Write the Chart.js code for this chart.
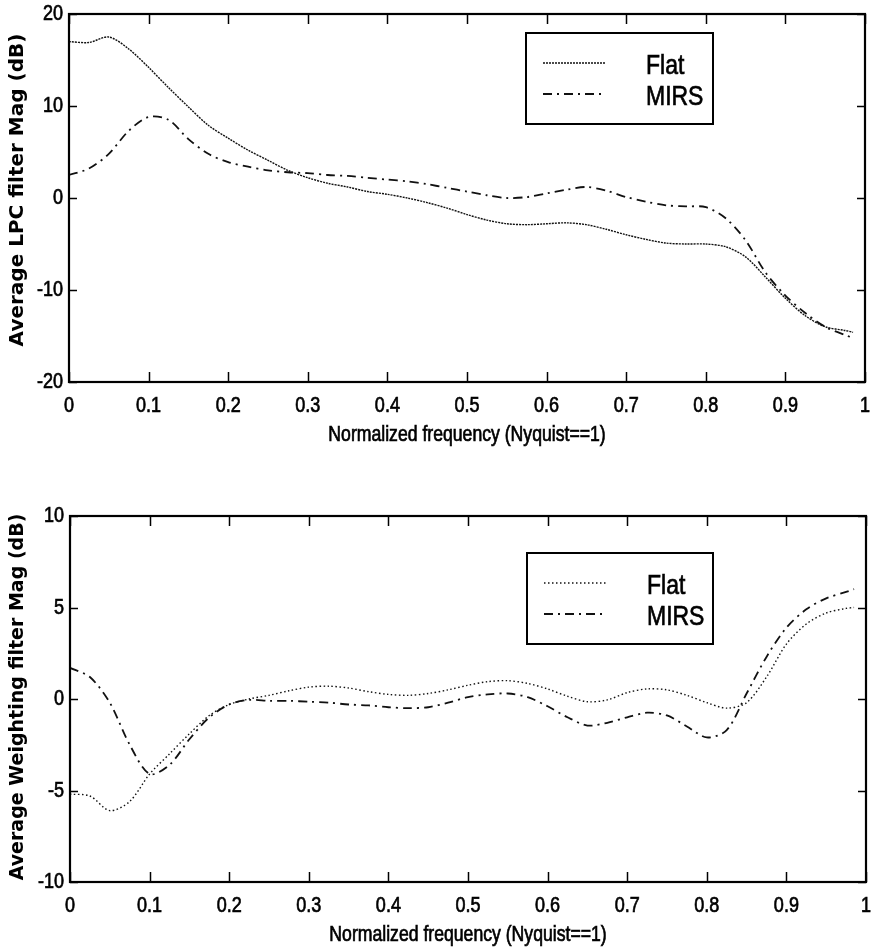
<!DOCTYPE html>
<html>
<head>
<meta charset="utf-8">
<script src="https://cdn.jsdelivr.net/npm/chart.js@4.4.0/dist/chart.umd.min.js"></script>
<style>
  body { margin: 0; background: #fff; width: 871px; height: 951px; overflow: hidden; position: relative; }
  canvas { position: absolute; left: 0; }
  #lpcChart { top: 0; }
  #wtChart { top: 475px; }
</style>
</head>
<body>
<canvas id="lpcChart" width="871" height="475"></canvas>
<canvas id="wtChart" width="871" height="476"></canvas>
<script>
// normalized frequency grid (Nyquist == 1)
const freq = [0, 0.025, 0.05, 0.075, 0.1, 0.125, 0.15, 0.175, 0.2, 0.225,
  0.25, 0.275, 0.3, 0.325, 0.35, 0.375, 0.4, 0.425, 0.45, 0.475,
  0.5, 0.525, 0.55, 0.575, 0.6, 0.625, 0.65, 0.675, 0.7, 0.725,
  0.75, 0.775, 0.8, 0.825, 0.85, 0.875, 0.9, 0.925, 0.95, 0.975, 0.985];

// average LPC filter magnitude, dB
const lpcFlat = [17.0, 16.9, 17.5, 16.2, 14.2, 12.0, 9.9, 7.9, 6.5, 5.2,
  4.1, 3.0, 2.2, 1.6, 1.2, 0.7, 0.4, 0.0, -0.5, -1.1,
  -1.8, -2.4, -2.8, -2.9, -2.8, -2.7, -2.9, -3.4, -4.0, -4.5,
  -4.9, -5.0, -5.0, -5.3, -6.4, -8.6, -10.9, -12.8, -14.0, -14.4, -14.6];
const lpcMirs = [2.5, 3.2, 4.8, 7.3, 8.8, 8.5, 6.4, 4.8, 3.9, 3.4,
  3.0, 2.8, 2.7, 2.5, 2.4, 2.2, 2.0, 1.8, 1.5, 1.1,
  0.7, 0.3, 0.0, 0.1, 0.5, 0.9, 1.2, 0.8, 0.1, -0.4,
  -0.8, -0.9, -1.0, -2.2, -4.6, -8.1, -10.6, -12.5, -14.0, -14.9, -15.2];

// average weighting filter magnitude, dB
const wtFlat = [-5.2, -5.3, -6.1, -5.6, -4.1, -3.0, -1.9, -0.9, -0.3, 0.0,
  0.2, 0.45, 0.65, 0.7, 0.6, 0.4, 0.25, 0.2, 0.3, 0.5,
  0.75, 0.95, 1.0, 0.85, 0.55, 0.15, -0.15, -0.05, 0.35, 0.55,
  0.5, 0.2, -0.2, -0.5, -0.2, 1.2, 3.0, 4.1, 4.7, 4.95, 5.0];
const wtMirs = [1.7, 1.2, -0.2, -2.5, -4.1, -3.6, -2.2, -1.0, -0.3, -0.05,
  -0.1, -0.1, -0.15, -0.2, -0.3, -0.35, -0.45, -0.5, -0.45, -0.2,
  0.1, 0.25, 0.3, 0.1, -0.4, -1.0, -1.45, -1.3, -1.0, -0.75,
  -0.9, -1.5, -2.1, -1.7, 0.3, 2.3, 3.9, 4.9, 5.5, 5.85, 6.0];

const seriesNames = ['Flat', 'MIRS'];
const xTicks = [0, 0.1, 0.2, 0.3, 0.4, 0.5, 0.6, 0.7, 0.8, 0.9, 1];
const xTickLabels = ['0', '0.1', '0.2', '0.3', '0.4', '0.5', '0.6', '0.7', '0.8', '0.9', '1'];
const lpcTicks = [-20, -10, 0, 10, 20];
const wtTicks = [-10, -5, 0, 5, 10];
const xTitle = 'Normalized frequency (Nyquist==1)';

const ink = '#111';
const sans = '"Liberation Sans", Arial, sans-serif';

function pts(ys) {
  return freq.map((f, i) => ({ x: f, y: ys[i] }));
}

// condensed text, like the old Helvetica plot fonts
function text(ctx, str, x, y, size, align, baseline) {
  ctx.save();
  ctx.translate(x, y);
  ctx.scale(0.82, 1);
  ctx.font = size + 'px ' + sans;
  ctx.textAlign = align;
  ctx.textBaseline = baseline;
  ctx.fillStyle = '#000';
  ctx.strokeStyle = '#000';
  ctx.lineWidth = 0.7;
  ctx.fillText(str, 0, 0);
  ctx.strokeText(str, 0, 0);
  ctx.restore();
}

// box, inward tick marks, labels and the boxed legend
const matlabBox = {
  id: 'matlabBox',
  afterDatasetsDraw(chart, args, opts) {
    const { ctx, chartArea: a, scales: { x, y } } = chart;
    ctx.save();
    ctx.strokeStyle = '#000';
    ctx.lineWidth = 1.5;
    ctx.beginPath();
    x.ticks.forEach(t => {
      const px = Math.round(x.getPixelForValue(t.value)) + 0.5;
      ctx.moveTo(px, a.bottom); ctx.lineTo(px, a.bottom - 10);
      ctx.moveTo(px, a.top); ctx.lineTo(px, a.top + 10);
    });
    y.ticks.forEach(t => {
      const py = Math.round(y.getPixelForValue(t.value)) + 0.5;
      ctx.moveTo(a.left, py); ctx.lineTo(a.left + 8, py);
      ctx.moveTo(a.right, py); ctx.lineTo(a.right - 8, py);
    });
    ctx.stroke();
    ctx.lineWidth = 2.2;
    ctx.strokeRect(a.left, a.top, a.right - a.left, a.bottom - a.top);

    // tick labels and axis titles
    x.ticks.forEach((t, i) => {
      text(ctx, xTickLabels[i], x.getPixelForValue(t.value), a.bottom + 30, 22, 'center', 'alphabetic');
    });
    y.ticks.forEach(t => {
      text(ctx, String(t.value), a.left - 6, y.getPixelForValue(t.value), 22, 'right', 'middle');
    });
    text(ctx, xTitle, (a.left + a.right) / 2, a.bottom + 59, 21.5, 'center', 'alphabetic');

    ctx.save();
    ctx.translate(18, (a.top + a.bottom) / 2 + opts.yTitleShift);
    ctx.rotate(-Math.PI / 2);
    ctx.font = 'bold ' + opts.yTitleSize + 'px "DejaVu Sans", sans-serif';
    ctx.textAlign = 'center';
    ctx.textBaseline = 'middle';
    ctx.fillStyle = '#000';
    ctx.fillText(opts.yTitle, 0, 0);
    ctx.restore();

    const lg = opts.legend;
    ctx.fillStyle = '#fff';
    ctx.fillRect(lg.left, lg.top, lg.width, lg.height);
    ctx.lineWidth = 2;
    ctx.strokeRect(lg.left, lg.top, lg.width, lg.height);
    chart.data.datasets.forEach((ds, i) => {
      const ly = lg.top + lg.rows[i];
      ctx.strokeStyle = ds.borderColor;
      ctx.lineWidth = ds.borderWidth;
      ctx.setLineDash(ds.borderDash);
      ctx.beginPath();
      ctx.moveTo(lg.left + 17, ly);
      ctx.lineTo(lg.left + 79, ly);
      ctx.stroke();
      ctx.setLineDash([]);
      text(ctx, ds.label, lg.left + 120, ly + 11, 28, 'left', 'alphabetic');
    });
    ctx.restore();
  }
};

function makeChart(id, flat, mirs, yTicks, opt) {
  return new Chart(document.getElementById(id), {
    type: 'line',
    data: {
      datasets: [{
        label: seriesNames[0],
        data: pts(flat),
        borderColor: ink,
        borderWidth: 1.4,
        borderDash: opt.flatDash,
        pointRadius: 0,
        tension: 0.3
      }, {
        label: seriesNames[1],
        data: pts(mirs),
        borderColor: ink,
        borderWidth: 1.8,
        borderDash: [9, 5, 2, 5],
        pointRadius: 0,
        tension: 0.3
      }]
    },
    options: {
      responsive: false,
      animation: false,
      layout: { padding: { top: opt.top, right: opt.right, left: 0, bottom: 0 } },
      plugins: {
        legend: { display: false },
        tooltip: { enabled: false },
        matlabBox: {
          legend: opt.legend,
          yTitle: opt.yTitle,
          yTitleSize: opt.yTitleSize,
          yTitleShift: opt.yTitleShift
        }
      },
      scales: {
        x: {
          type: 'linear',
          min: 0,
          max: 1,
          afterBuildTicks: s => { s.ticks = xTicks.map(v => ({ value: v })); },
          afterFit: s => { s.height = opt.xHeight; },
          grid: { display: false, drawTicks: false },
          border: { display: false },
          ticks: { display: false }
        },
        y: {
          min: yTicks[0],
          max: yTicks[yTicks.length - 1],
          afterBuildTicks: s => { s.ticks = yTicks.map(v => ({ value: v })); },
          afterFit: s => { s.width = opt.left; },
          grid: { display: false, drawTicks: false },
          border: { display: false },
          ticks: { display: false }
        }
      }
    },
    plugins: [matlabBox]
  });
}

makeChart('lpcChart', lpcFlat, lpcMirs, lpcTicks, {
  top: 14, right: 6, left: 69, xHeight: 93,
  flatDash: [2, 1],
  yTitle: 'Average LPC filter Mag (dB)', yTitleSize: 20, yTitleShift: -8,
  legend: { left: 526, top: 33, width: 187, height: 91, rows: [30, 61] }
});

makeChart('wtChart', wtFlat, wtMirs, wtTicks, {
  top: 41, right: 5, left: 70, xHeight: 69,
  flatDash: [1.5, 2.5],
  yTitle: 'Average Weighting filter Mag (dB)', yTitleSize: 19, yTitleShift: -2,
  legend: { left: 527, top: 78, width: 186, height: 91, rows: [30, 61] }
});
</script>
</body>
</html>
